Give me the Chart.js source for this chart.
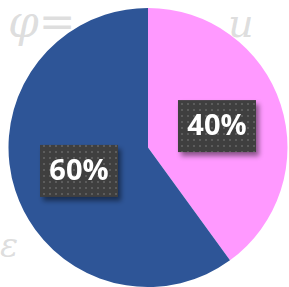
<!DOCTYPE html>
<html>
<head>
<meta charset="utf-8">
<script src="https://cdn.jsdelivr.net/npm/chart.js@4"></script>
<style>
  html, body { margin: 0; padding: 0; background: #ffffff; }
  #wrap { position: relative; width: 289px; height: 287px; }
  .scribble { position: absolute; color: rgba(160,160,160,0.35); font-family: "DejaVu Serif", serif; font-style: italic; }
</style>
</head>
<body>
<div id="wrap">
  <span class="scribble" style="left:8px;top:-4px;font-size:44px;">φ=</span>
  <span class="scribble" style="left:228px;top:0px;font-size:40px;">u</span>
  <span class="scribble" style="left:0px;top:225px;font-size:34px;">ε</span>
  <canvas id="pie" width="289" height="287" style="position:absolute;left:0;top:0;"></canvas>
</div>
<script>
const categories = ['A', 'B'];
const shares = [40, 60];
const sliceColors = ['#FF99FF', '#2E5597'];
const labelTexts = ['40%', '60%'];

// dotted dark fill used behind the percentage labels
function dotPattern(ctx){
    const c = document.createElement('canvas');
    c.width = 6; c.height = 6;
    const p = c.getContext('2d');
    p.fillStyle = '#3f3f3f';
    p.fillRect(0, 0, 6, 6);
    p.fillStyle = '#5c5c5c';
    p.fillRect(1, 1, 2, 2);
    return ctx.createPattern(c, 'repeat');
}

const boxLabels = {
    id: 'boxLabels',
    afterDatasetsDraw(chart){
        const ctx = chart.ctx;
        const meta = chart.getDatasetMeta(0);
        const pat = dotPattern(ctx);
        ctx.save();
        ctx.font = 'bold 29px "Open Sans", "Liberation Sans", sans-serif';
        ctx.textAlign = 'center';
        ctx.textBaseline = 'middle';
        meta.data.forEach((arc, i) => {
            const mid = (arc.startAngle + arc.endAngle) / 2;
            const r = arc.outerRadius * 0.52;
            const x = arc.x + Math.cos(mid) * r;
            const y = arc.y + Math.sin(mid) * r + 1;
            const w = 78, h = 52;
            ctx.shadowColor = 'rgba(0,0,0,0.45)';
            ctx.shadowBlur = 5;
            ctx.shadowOffsetX = 3;
            ctx.shadowOffsetY = 4;
            ctx.fillStyle = pat;
            ctx.fillRect(x - w / 2, y - h / 2, w, h);
            ctx.shadowColor = 'transparent';
            ctx.fillStyle = '#ffffff';
            ctx.fillText(labelTexts[i], x, y + 1);
        });
        ctx.restore();
    }
};

new Chart(document.getElementById('pie'), {
    type: 'pie',
    data: {
        labels: categories,
        datasets: [{
            data: shares,
            backgroundColor: sliceColors,
            borderWidth: 0
        }]
    },
    options: {
        responsive: false,
        animation: false,
        layout: { padding: { top: 8, left: 8, right: 1, bottom: 0 } },
        plugins: {
            legend: { display: false },
            tooltip: { enabled: false }
        }
    },
    plugins: [boxLabels]
});
</script>
</body>
</html>
